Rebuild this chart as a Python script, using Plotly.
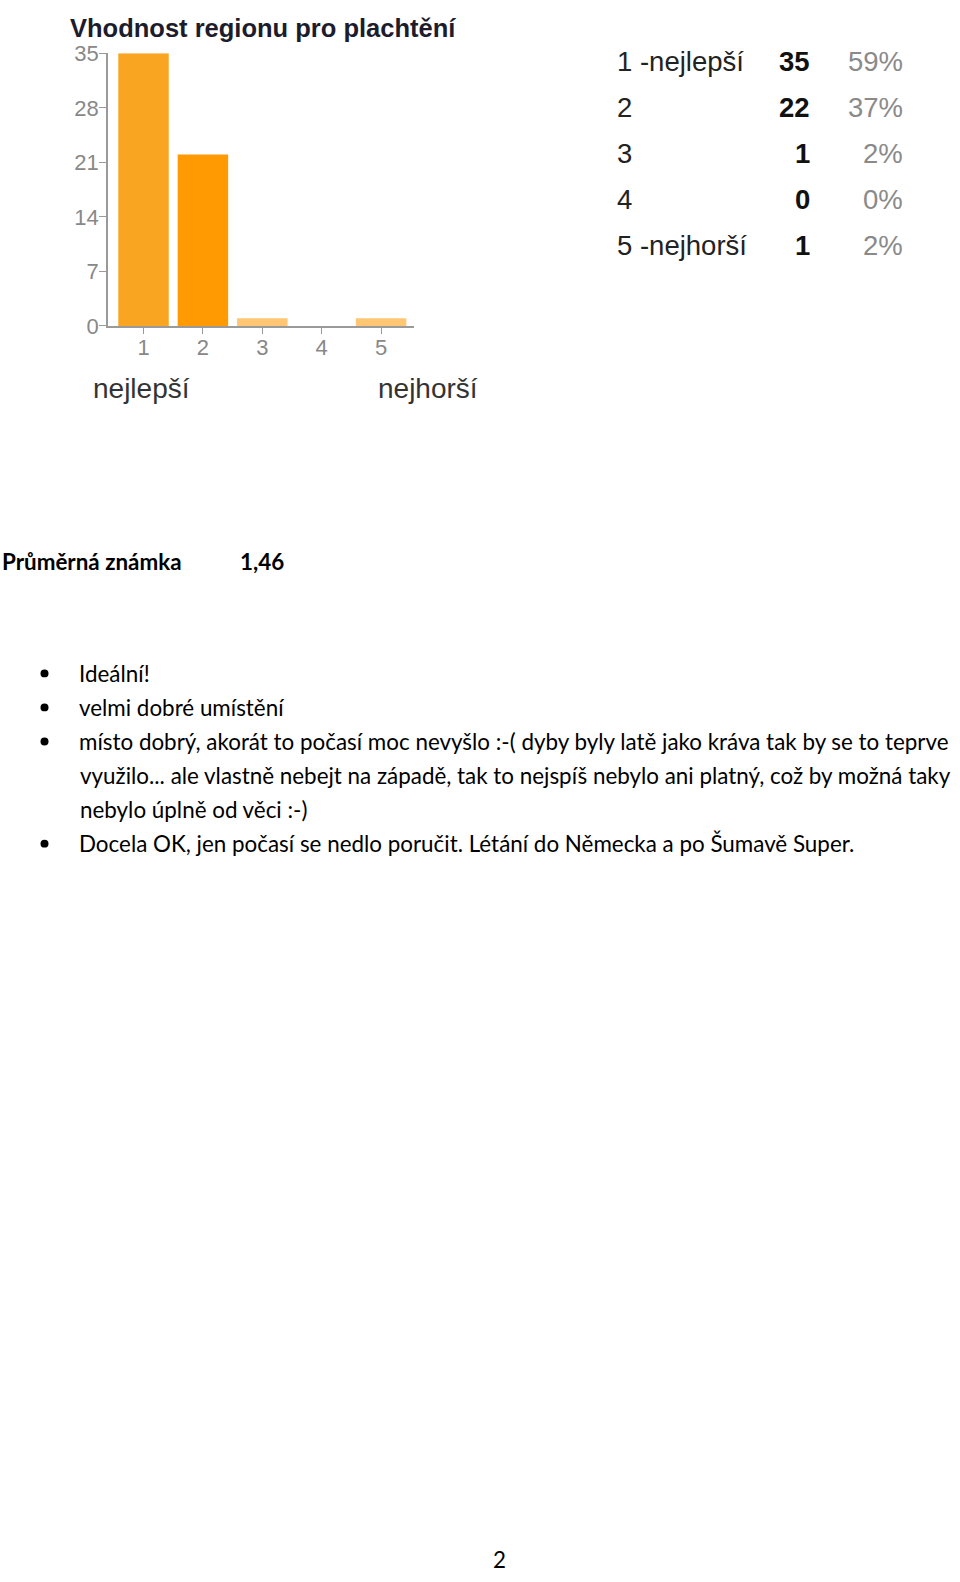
import plotly.graph_objects as go

# figure size in px, used to place page text in paper coords
W, H = 960, 1582

chart_title = "Vhodnost regionu pro plachtění"
ratings = [1, 2, 3, 4, 5]
counts = [35, 22, 1, 0, 1]
y_ticks = [0, 7, 14, 21, 28, 35]
row_labels = ["1 -nejlepší", "2", "3", "4", "5 -nejhorší"]
percents = ["59%", "37%", "2%", "0%", "2%"]
end_labels = ["nejlepší", "nejhorší"]

avg_label = "Průměrná známka"
avg_value = "1,46"

# each comment as the lines it wraps to on the page
comments = [
    ["Ideální!"],
    ["velmi dobré umístění"],
    ["místo dobrý, akorát to počasí moc nevyšlo :-( dyby byly latě jako kráva tak by se to teprve",
     "využilo... ale vlastně nebejt na západě, tak to nejspíš nebylo ani platný, což by možná taky",
     "nebylo úplně od věci :-)"],
    ["Docela OK, jen počasí se nedlo poručit. Létání do Německa a po Šumavě Super."],
]
page_number = "2"


def px(x):
    return x / W


def py(y):
    return 1 - y / H


def note(text, x, y, anchor, font):
    return dict(
        text=text, x=px(x), y=py(y), xref="paper", yref="paper",
        xanchor=anchor, yanchor="middle", showarrow=False, font=font,
    )


bar_colors = ["#FAA522", "#FF9A02", "#FFC774", "#FFC774", "#FFC774"]

fig = go.Figure()
fig.add_trace(go.Bar(
    x=ratings,
    y=counts,
    marker=dict(color=bar_colors, line=dict(width=0)),
    hoverinfo="x+y",
))

axis_font = dict(family="Liberation Sans, Arial, sans-serif", size=22, color="#888888")

fig.update_layout(
    width=W, height=H,
    margin=dict(l=0, r=0, t=0, b=0),
    paper_bgcolor="white",
    plot_bgcolor="white",
    showlegend=False,
    bargap=0.15,
    xaxis=dict(
        domain=[px(108), px(414)],
        range=[0.402, 5.554],
        tickvals=ratings,
        ticks="outside", ticklen=6, tickcolor="#9a9a9a",
        ticklabelstandoff=-5,
        showline=True, linecolor="#9a9a9a", linewidth=1.5,
        showgrid=False, zeroline=False,
        tickfont=axis_font,
        fixedrange=True,
    ),
    yaxis=dict(
        domain=[py(319), py(42)],
        range=[0, 35],
        tickvals=y_ticks,
        ticks="outside", ticklen=7, tickcolor="#9a9a9a",
        ticklabelstandoff=-4,
        showline=True, linecolor="#9a9a9a", linewidth=1.5,
        showgrid=False, zeroline=False,
        tickfont=axis_font,
        fixedrange=True,
    ),
)

annotations = []

# chart title
annotations.append(note("<b>%s</b>" % chart_title, 68, 16, "left",
                        dict(family="Liberation Sans, Arial, sans-serif", size=25.5, color="#1c1c2c")))

# best / worst labels under the axis
for label, x0 in zip(end_labels, [91, 376]):
    annotations.append(note(label, x0, 383, "left",
                            dict(family="Liberation Sans, Arial, sans-serif", size=28, color="#333333")))

# summary table on the right
table_font = dict(family="Liberation Sans, Arial, sans-serif", size=27.5)
row_y = [50, 97, 144, 191, 237]
for label, n, pct, yy in zip(row_labels, counts, percents, row_y):
    annotations.append(note(label, 615, yy, "left", dict(table_font, color="#222222")))
    annotations.append(note("<b>%d</b>" % n, 812, yy, "right", dict(table_font, color="#111111")))
    annotations.append(note(pct, 905, yy, "right", dict(table_font, color="#8a8a8a")))

# average grade
doc_font = dict(family="Lato, Open Sans, sans-serif", size=22.4, color="#000000")
annotations.append(note("<b>%s</b>" % avg_label, 0, 558, "left", doc_font))
annotations.append(note("<b>%s</b>" % avg_value, 238, 558, "left", doc_font))

# bulleted comments
shapes = []
line_y = 672
for comment in comments:
    shapes.append(dict(
        type="circle", xref="paper", yref="paper",
        x0=px(40.5), x1=px(48.5), y0=py(line_y - 4), y1=py(line_y + 4),
        fillcolor="black", line=dict(width=0),
    ))
    for j, line in enumerate(comment):
        annotations.append(note(line, 77 if j == 0 else 78, line_y, "left", doc_font))
        line_y += 34.6

# page number
annotations.append(note(page_number, 499, 1572, "center", doc_font))

fig.update_layout(annotations=annotations, shapes=shapes)

# drop the default body margin so the figure sits at the page origin
fig.write_html("out.html", config={"displayModeBar": False},
               post_script="document.body.style.margin = '0px';")
